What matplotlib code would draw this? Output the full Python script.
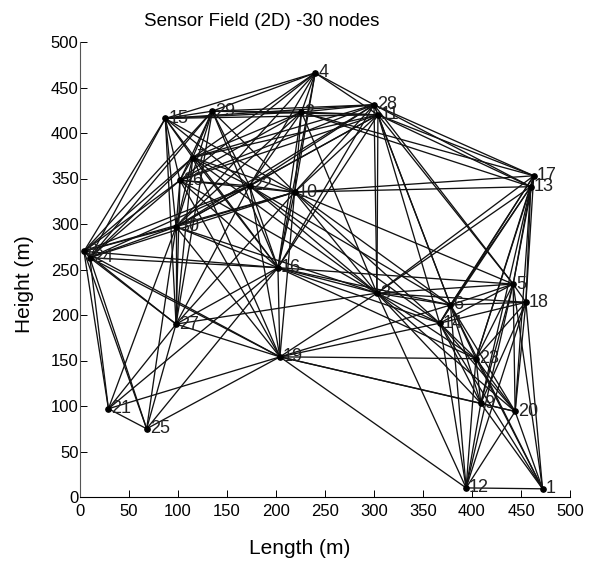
import numpy as np
import matplotlib
matplotlib.use("Agg")
import matplotlib.pyplot as plt

plt.rcParams['font.family'] = ['Liberation Sans', 'DejaVu Sans']

# node positions in metres, index + 1 = node id
node_x = [472, 226, 303, 240, 442, 378, 115, 4, 409, 219,
          304, 394, 460, 367, 87, 202, 463, 455, 204, 444,
          29, 173, 404, 10, 68, 102, 98, 300, 135, 98]
node_y = [9, 423, 224, 466, 234, 211, 373, 270, 103, 335,
          420, 10, 341, 191, 416, 252, 353, 214, 154, 94,
          97, 342, 152, 263, 75, 348, 190, 431, 424, 297]
COMM_RANGE = 249    # links are drawn between nodes closer than this

x_ticks = [0, 50, 100, 150, 200, 250, 300, 350, 400, 450, 500]
y_ticks = [0, 50, 100, 150, 200, 250, 300, 350, 400, 450, 500]

fig = plt.figure(figsize=(5.95, 5.65), dpi=100)
ax = fig.add_axes([80 / 595, 68 / 565, 490 / 595, 455 / 565])

n = len(node_x)
for i in range(n):
    for j in range(i + 1, n):
        d = np.hypot(node_x[i] - node_x[j], node_y[i] - node_y[j])
        if d < COMM_RANGE:
            ax.plot([node_x[i], node_x[j]], [node_y[i], node_y[j]],
                    color="#111111", lw=0.95, zorder=2, clip_on=False)

ax.plot(node_x, node_y, "o", color="black", ms=3.8, zorder=3, clip_on=False)
for i in range(n):
    ax.annotate(str(i + 1), (node_x[i], node_y[i]), xytext=(3, 0),
                textcoords="offset pixels", fontsize=13, va="center",
                color="#222222", zorder=4)

ax.set_xlim(0, 500)
ax.set_ylim(0, 500)
ax.set_xticks(x_ticks)
ax.set_yticks(y_ticks)
ax.tick_params(direction="in", length=5, width=0.7, labelsize=12)
ax.tick_params(axis="x", pad=5)
ax.tick_params(axis="y", pad=1)
ax.spines["top"].set_visible(False)
ax.spines["right"].set_visible(False)
ax.spines["left"].set_color("#555555")

fig.text(300 / 595, 1 - 549 / 565, "Length (m)", fontsize=15, ha="center", va="center")
fig.text(24 / 595, 1 - 284 / 565, "Height (m)", fontsize=15, ha="center", va="center",
         rotation=90)
fig.text(262 / 595, 1 - 21 / 565, "Sensor Field (2D) -30 nodes", fontsize=13.5,
         ha="center", va="center")

fig.savefig("out.png", dpi=100)
